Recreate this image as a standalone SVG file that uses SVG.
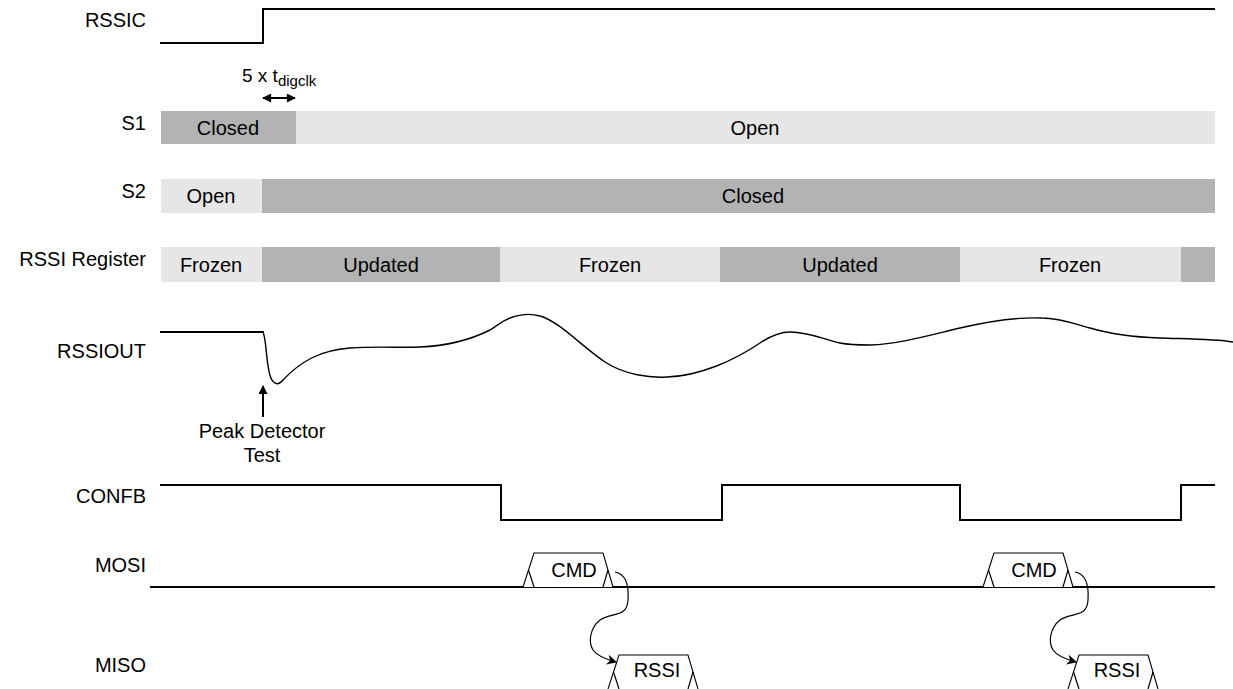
<svg xmlns="http://www.w3.org/2000/svg" width="1233" height="689" viewBox="0 0 1233 689">
<style>
.lbl{font-family:"Liberation Sans",Arial,sans-serif;font-size:20px;fill:#000;text-anchor:end}
.bt{font-family:"Liberation Sans",Arial,sans-serif;font-size:20px;fill:#000;text-anchor:middle}
.dk{fill:#b3b3b3}
.lt{fill:#e6e6e6}
.sig{fill:none;stroke:#000;stroke-width:2}
.thin{fill:none;stroke:#000;stroke-width:1.2}
.bus{fill:#fff;stroke:#000;stroke-width:1.1}
</style>
<defs>
<marker id="ah" viewBox="0 0 10 10" refX="9" refY="5" markerWidth="10" markerHeight="9" markerUnits="userSpaceOnUse" orient="auto-start-reverse">
<path d="M0,0 L10,5 L0,10 Z" fill="#000"/>
</marker>
<marker id="ah2" viewBox="0 0 10 10" refX="9" refY="5" markerWidth="16" markerHeight="10" markerUnits="userSpaceOnUse" orient="auto">
<path d="M0,0 L10,5 L0,10 L3,5 Z" fill="#000"/>
</marker>
</defs>

<g id="labels">
<text class="lbl" x="146" y="27">RSSIC</text>
<text class="lbl" x="146" y="130">S1</text>
<text class="lbl" x="146" y="198">S2</text>
<text class="lbl" x="146" y="266">RSSI Register</text>
<text class="lbl" x="146" y="358">RSSIOUT</text>
<text class="lbl" x="146" y="503">CONFB</text>
<text class="lbl" x="146" y="572">MOSI</text>
<text class="lbl" x="146" y="672">MISO</text>
</g>

<g id="rssic">
<path class="sig" d="M160,43 H263 V9 H1215"/>
</g>

<g id="tdigclk">
<text x="242" y="82" font-family="Liberation Sans, Arial, sans-serif" font-size="19">5 x t<tspan font-size="15" dy="4">digclk</tspan></text>
<line x1="263" y1="98" x2="295" y2="98" stroke="#000" stroke-width="2" marker-start="url(#ah)" marker-end="url(#ah)"/>
</g>

<g id="s1">
<rect class="dk" x="161" y="111" width="135" height="33"/>
<rect class="lt" x="296" y="111" width="919" height="33"/>
<text class="bt" x="228" y="135">Closed</text>
<text class="bt" x="755" y="135">Open</text>
</g>

<g id="s2">
<rect class="lt" x="161" y="179" width="101" height="34"/>
<rect class="dk" x="262" y="179" width="953" height="34"/>
<text class="bt" x="211" y="203">Open</text>
<text class="bt" x="753" y="203">Closed</text>
</g>

<g id="rssireg">
<rect class="lt" x="161" y="247" width="101" height="35"/>
<rect class="dk" x="262" y="247" width="238" height="35"/>
<rect class="lt" x="500" y="247" width="220" height="35"/>
<rect class="dk" x="720" y="247" width="240" height="35"/>
<rect class="lt" x="960" y="247" width="221" height="35"/>
<rect class="dk" x="1181" y="247" width="34" height="35"/>
<text class="bt" x="211" y="272">Frozen</text>
<text class="bt" x="381" y="272">Updated</text>
<text class="bt" x="610" y="272">Frozen</text>
<text class="bt" x="840" y="272">Updated</text>
<text class="bt" x="1070" y="272">Frozen</text>
</g>

<g id="rssiout">
<path class="sig" d="M160,332 H264"/>
<path fill="none" stroke="#000" stroke-width="1.4" d="M263,332 C267,340 266,372 272,380 C275,385 279,385 283,380 C300,362 320,350 350,348 C380,346 400,348 420,347 C445,346 470,340 490,330 C497,326 500,322 510,318 C518,315 530,313 540,316 C560,322 580,345 605,362 C625,375 650,378 667,377 C700,376 735,360 760,343 C772,335 780,332 790,332 C810,332 825,340 840,343 C850,345 860,345 870,345 C900,344 930,335 960,328 C990,321 1020,317 1042,318 C1060,318 1075,324 1090,328 C1110,334 1130,337 1160,338 C1190,339 1215,339 1233,342"/>
</g>

<g id="peak">
<line x1="263" y1="417" x2="263" y2="386" stroke="#000" stroke-width="2" marker-end="url(#ah)"/>
<text class="bt" x="262" y="438" font-size="21">Peak Detector</text>
<text class="bt" x="262" y="462" font-size="21">Test</text>
</g>

<g id="confb">
<path class="sig" d="M160,485 H501 V520 H722 V485 H960 V520 H1181 V485 H1215"/>
</g>

<g id="mosi">
<line x1="150" y1="587" x2="1215" y2="587" stroke="#000" stroke-width="2"/>
<path class="bus" d="M523,587 L534,553 H603 L613,587"/>
<path class="thin" d="M528.5,570 L534,587 M608,570 L603,587"/>
<text class="bt" x="574" y="577">CMD</text>
<path class="bus" d="M983,587 L994,553 H1063 L1073,587"/>
<path class="thin" d="M988.5,570 L994,587 M1068,570 L1063,587"/>
<text class="bt" x="1034" y="577">CMD</text>
</g>

<g id="miso">
<path class="bus" d="M608,689 L619,655 H688 L698,689"/>
<path class="thin" d="M613.5,672 L619,689 M693,672 L688,689"/>
<text class="bt" x="657" y="677">RSSI</text>
<path class="bus" d="M1068,689 L1079,655 H1148 L1158,689"/>
<path class="thin" d="M1073.5,672 L1079,689 M1153,672 L1148,689"/>
<text class="bt" x="1117" y="677">RSSI</text>
</g>

<g id="connectors">
<path class="thin" d="M615,572 C626,574 629,585 628,600 C627,618 612,612 600,620 C590,628 588,642 593,650 C597,656 605,659 616,662" marker-end="url(#ah2)"/>
<path class="thin" d="M1075,572 C1086,574 1089,585 1088,600 C1087,618 1072,612 1060,620 C1050,628 1048,642 1053,650 C1057,656 1065,659 1076,662" marker-end="url(#ah2)"/>
</g>
</svg>
